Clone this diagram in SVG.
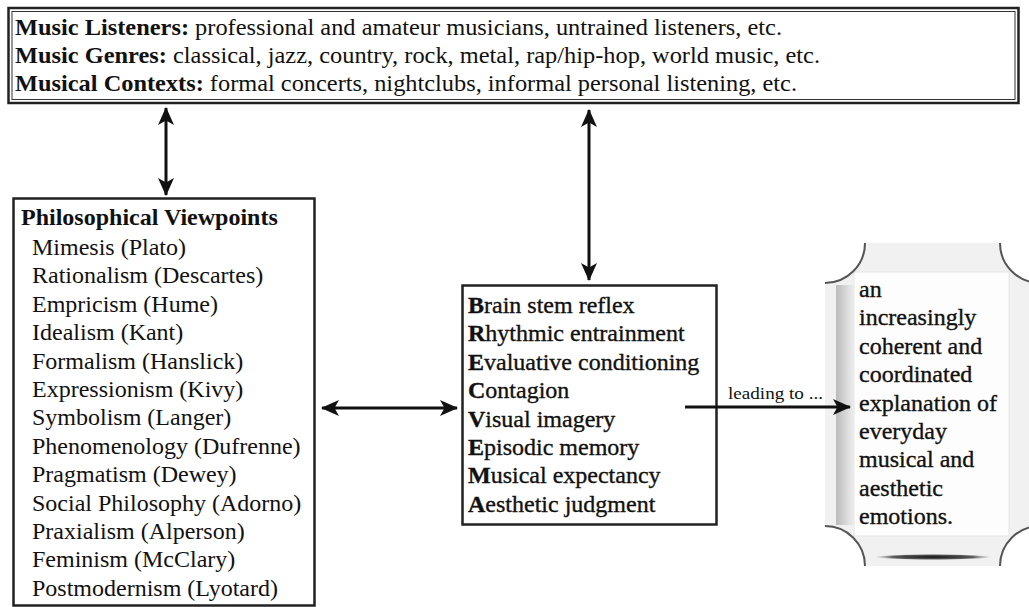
<svg xmlns="http://www.w3.org/2000/svg" width="1029" height="607" viewBox="0 0 1029 607">
<style>
  .t { font-family: "Liberation Serif", "Times New Roman", serif; font-size: 24px; fill: #111; }
  .top { font-size: 24px; }
  .b { font-weight: bold; }
  .heavy { stroke: #111; stroke-width: 0.35px; }
  .box { fill: #fff; stroke: #222; stroke-width: 2.5; }
  .conn { stroke: #111; stroke-width: 3; fill: none; }
  .small { font-size: 17px; }
</style>
<defs>
  <marker id="ah" viewBox="0 0 18 18" markerWidth="18" markerHeight="18" refX="17" refY="9" orient="auto-start-reverse" markerUnits="userSpaceOnUse">
    <path d="M0,1 L18,9 L0,17 L4.5,9 Z" fill="#111"/>
  </marker>
  <radialGradient id="shadow" cx="0.5" cy="0.5" r="0.5">
    <stop offset="0" stop-color="#111" stop-opacity="1"/>
    <stop offset="0.7" stop-color="#333" stop-opacity="0.8"/>
    <stop offset="1" stop-color="#666" stop-opacity="0"/>
  </radialGradient>
  <linearGradient id="leftEdge" x1="0" y1="0" x2="1" y2="0">
    <stop offset="0" stop-color="#bbb"/>
    <stop offset="1" stop-color="#eee"/>
  </linearGradient>
</defs>
<rect width="1029" height="607" fill="#fff"/>

<g id="context">
  <rect x="8.5" y="8" width="1010" height="95" fill="#fff" stroke="#222" stroke-width="2.5"/>
  <rect x="12" y="11.5" width="1003" height="88" fill="none" stroke="#333" stroke-width="1"/>
  <text class="t top" x="15" y="35" textLength="767" lengthAdjust="spacingAndGlyphs"><tspan class="b">Music Listeners:</tspan> professional and amateur musicians, untrained listeners, etc.</text>
  <text class="t top" x="15" y="63" textLength="805" lengthAdjust="spacingAndGlyphs"><tspan class="b">Music Genres:</tspan> classical, jazz, country, rock, metal, rap/hip-hop, world music, etc.</text>
  <text class="t top" x="15" y="91" textLength="782" lengthAdjust="spacingAndGlyphs"><tspan class="b">Musical Contexts:</tspan> formal concerts, nightclubs, informal personal listening, etc.</text>
</g>

<g id="viewpoints">
  <rect class="box" x="13.5" y="198.5" width="301" height="407"/>
  <text class="t b" x="21" y="225">Philosophical Viewpoints</text>
  <text class="t" x="32" y="255">Mimesis (Plato)</text>
  <text class="t" x="32" y="283.4">Rationalism (Descartes)</text>
  <text class="t" x="32" y="311.8">Empricism (Hume)</text>
  <text class="t" x="32" y="340.2">Idealism (Kant)</text>
  <text class="t" x="32" y="368.6">Formalism (Hanslick)</text>
  <text class="t" x="32" y="397">Expressionism (Kivy)</text>
  <text class="t" x="32" y="425.4">Symbolism (Langer)</text>
  <text class="t" x="32" y="453.8">Phenomenology (Dufrenne)</text>
  <text class="t" x="32" y="482.2">Pragmatism (Dewey)</text>
  <text class="t" x="32" y="510.6">Social Philosophy (Adorno)</text>
  <text class="t" x="32" y="539">Praxialism (Alperson)</text>
  <text class="t" x="32" y="567.4">Feminism (McClary)</text>
  <text class="t" x="32" y="595.8">Postmodernism (Lyotard)</text>
</g>

<g id="mechanisms">
  <rect class="box" x="462.5" y="285.5" width="254" height="239"/>
  <text class="t heavy" x="468" y="313"><tspan class="b">B</tspan>rain stem reflex</text>
  <text class="t heavy" x="468" y="341.4"><tspan class="b">R</tspan>hythmic entrainment</text>
  <text class="t heavy" x="468" y="369.8"><tspan class="b">E</tspan>valuative conditioning</text>
  <text class="t heavy" x="468" y="398.2"><tspan class="b">C</tspan>ontagion</text>
  <text class="t heavy" x="468" y="426.6"><tspan class="b">V</tspan>isual imagery</text>
  <text class="t heavy" x="468" y="455"><tspan class="b">E</tspan>pisodic memory</text>
  <text class="t heavy" x="468" y="483.4"><tspan class="b">M</tspan>usical expectancy</text>
  <text class="t heavy" x="468" y="511.8"><tspan class="b">A</tspan>esthetic judgment</text>
</g>

<g id="outcome">
  <path d="M865,243 L1000,243 A40,40 0 0 0 1040,283 L1040,526 A40,40 0 0 0 1000,566 L865,566 A40,40 0 0 0 825,526 L825,283 A40,40 0 0 0 865,243 Z" fill="#f1f1f1" stroke="none"/>
  <rect x="836" y="285" width="18" height="240" fill="url(#leftEdge)"/>
  <rect x="854" y="272" width="155" height="264" fill="#fdfdfd" stroke="#e6e6e6" stroke-width="1"/>
  <path d="M825,283 A40,40 0 0 0 865,243" fill="none" stroke="#555" stroke-width="2"/>
  <path d="M1000,243 A40,40 0 0 0 1040,283" fill="none" stroke="#555" stroke-width="2"/>
  <path d="M825,526 A40,40 0 0 1 865,566" fill="none" stroke="#555" stroke-width="2"/>
  <path d="M1000,566 A40,40 0 0 1 1040,526" fill="none" stroke="#555" stroke-width="2"/>
  <ellipse cx="933" cy="557" rx="58" ry="3" fill="url(#shadow)"/>
  <text class="t heavy" x="859" y="297">an</text>
  <text class="t heavy" x="859" y="325.4">increasingly</text>
  <text class="t heavy" x="859" y="353.8">coherent and</text>
  <text class="t heavy" x="859" y="382.2">coordinated</text>
  <text class="t heavy" x="859" y="410.6">explanation of</text>
  <text class="t heavy" x="859" y="439">everyday</text>
  <text class="t heavy" x="859" y="467.4">musical and</text>
  <text class="t heavy" x="859" y="495.8">aesthetic</text>
  <text class="t heavy" x="859" y="524.2">emotions.</text>
</g>

<g id="connectors">
  <line class="conn" x1="166" y1="108" x2="166" y2="195" marker-start="url(#ah)" marker-end="url(#ah)"/>
  <line class="conn" x1="589" y1="110" x2="589" y2="280" marker-start="url(#ah)" marker-end="url(#ah)"/>
  <line class="conn" x1="322" y1="408" x2="457" y2="408" marker-start="url(#ah)" marker-end="url(#ah)"/>
  <line class="conn" x1="685" y1="407" x2="850" y2="407" marker-end="url(#ah)"/>
  <text class="t small" x="728" y="399" textLength="95" lengthAdjust="spacingAndGlyphs">leading to ...</text>
</g>
</svg>
